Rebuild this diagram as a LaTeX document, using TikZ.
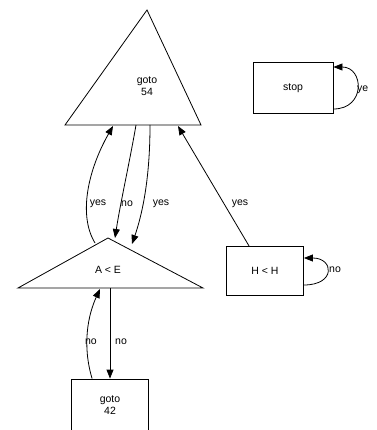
\documentclass[tikz,border=0pt]{standalone}
\usepackage{fontspec}
\setmainfont{Liberation Sans}
\usetikzlibrary{arrows.meta}
\begin{document}
\begin{tikzpicture}[x=1pt,y=-1pt,
  shapeline/.style={draw=black,line width=0.8pt},
  lbl/.style={font=\fontsize{10.5}{11.5}\selectfont,inner sep=0pt,align=center},
  edge/.style={draw=black,line width=0.8pt,-{Triangle[length=9pt,width=7pt]}},
  boxnode/.style={draw=black,line width=0.8pt,inner sep=0pt,font=\fontsize{10.5}{11.5}\selectfont,align=center}]
\useasboundingbox (0,0) rectangle (376,430);
% goto 54 triangle
\draw[shapeline] (147,10) -- (201,125) -- (65,125) -- cycle;
\node[lbl] (g54) at (147,86) {goto\\54};
% A < E triangle
\draw[shapeline] (108,238) -- (203,288) -- (18,288) -- cycle;
\node[lbl] (ae) at (108,270) {A < E};
% boxes
\node[boxnode,minimum width=80pt,minimum height=51pt] (stop) at (293,88) {stop};
\node[boxnode,minimum width=77pt,minimum height=49pt] (hh) at (265,271) {H < H};
\node[boxnode,minimum width=77pt,minimum height=52pt] (g42) at (110,405) {goto\\42};
% attachment points on the triangles and boxes
\coordinate (t1) at (113,126);
\coordinate (t2) at (136,125);
\coordinate (t3) at (150,125);
\coordinate (t4) at (178,126);
\coordinate (a1) at (95,243);
\coordinate (a2) at (115,238);
\coordinate (a3) at (132,244);
\coordinate (a4) at (110,288);
\coordinate (a5) at (100,289);
\path (hh.north west) ++(23,0) coordinate (h1);
\path (g42.north west) ++(21,0) coordinate (g1);
% edges
\draw[edge] (a1) .. controls (78,215) and (88,170) .. (t1);
\node[lbl] (l1) at (98,204) {yes};
\draw[edge] (t2) .. controls (130,160) and (120,205) .. (a2);
\node[lbl] (l2) at (127,204) {no};
\draw[edge] (t3) .. controls (150,180) and (142,215) .. (a3);
\node[lbl] (l3) at (161,204) {yes};
\draw[edge] (h1) -- (t4);
\node[lbl] (l4) at (240,204) {yes};
\draw[edge] (a4) -- (g42.north);
\node[lbl] (l5) at (121,342) {no};
\draw[edge] (g1) .. controls (82,345) and (88,315) .. (a5);
\node[lbl] (l6) at (91,342) {no};
% self loops
\draw[edge] ([yshift=-21pt]stop.east) .. controls (366,109) and (364,67) .. ([yshift=21pt]stop.east);
\node[lbl,anchor=west] (l7) at (357,90) {ye};
\draw[edge] ([yshift=-14pt]hh.east) .. controls (336,285) and (334,258) .. ([yshift=13pt]hh.east);
\node[lbl,anchor=west] (l8) at (329,270) {no};
\end{tikzpicture}
\end{document}
